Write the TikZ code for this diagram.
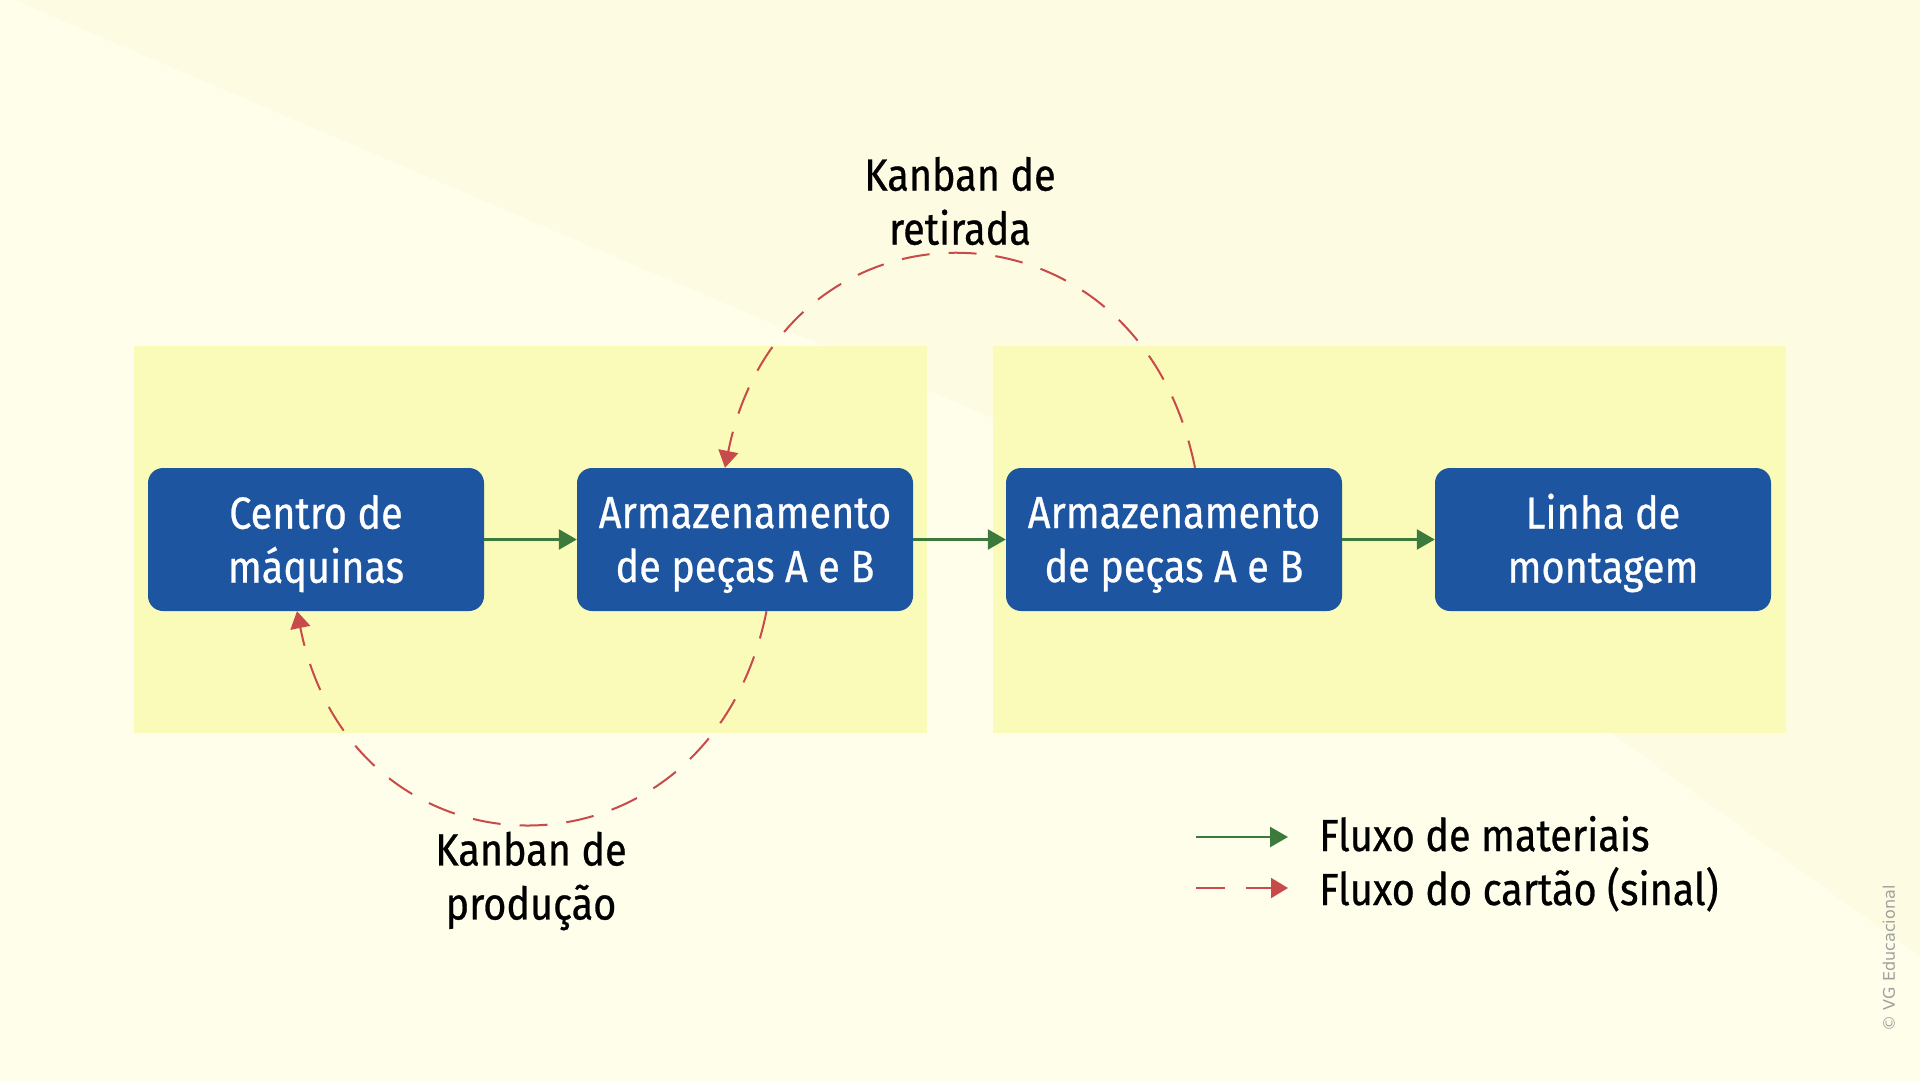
\documentclass[tikz,border=0pt]{standalone}
\usepackage{fontspec}
\setmainfont{Fira Sans}[FakeStretch=0.88,FakeBold=0.6]
\newfontfamily\copyfont{DejaVu Sans}
\usetikzlibrary{arrows.meta,calc}
\definecolor{bgw}{HTML}{FEFEEA}
\definecolor{bgy}{HTML}{FDFCE2}
\definecolor{panelc}{HTML}{FAFBB9}
\definecolor{boxblue}{HTML}{1E55A1}
\definecolor{flowgreen}{HTML}{3B7A3B}
\definecolor{cardred}{HTML}{C84A4A}
\definecolor{copygray}{HTML}{A0A0A0}
\newcommand{\topstrut}{\rule{0pt}{42pt}}
\tikzset{
  boxnode/.style={fill=boxblue, rounded corners=15pt, minimum width=336pt,
    minimum height=143pt, inner sep=0pt, text=white, align=center,
    font=\fontsize{45}{54}\selectfont},
  lbl/.style={align=center, text=black, font=\fontsize{45}{54}\selectfont, inner sep=0pt},
  legtext/.style={anchor=base west, text=black, font=\fontsize{45}{54}\selectfont, inner sep=0pt},
  matflow/.style={draw=flowgreen, line width=2.5pt, -{Triangle[length=18pt,width=20pt]}},
  cardflow/.style={draw=cardred, line width=2pt, dash pattern=on 28pt off 19pt,
    -{Triangle[length=17pt,width=20pt]}},
  legcard/.style={draw=cardred, line width=2pt, dash pattern=on 29pt off 21pt,
    -{Triangle[length=17pt,width=20pt]}},
  panel/.style={fill=panelc}
}
\begin{document}
\begin{tikzpicture}[x=1pt,y=-1pt]
\useasboundingbox (0,0) rectangle (1920,1081);
% background
\fill[bgw] (0,0) rectangle (1920,1081);
\fill[bgy] (14,0) -- (1920,0) -- (1920,957) -- (1443,610) -- cycle;
% panels
\fill[panel] (134,346) rectangle (927,733);
\fill[panel] (993,346) rectangle (1786,733);
% boxes
\node[boxnode] (b1) at (316,539.5) {\topstrut Centro de\\máquinas};
\node[boxnode] (b2) at (745,539.5) {\topstrut Armazenamento\\de peças A e B};
\node[boxnode] (b3) at (1174,539.5) {\topstrut Armazenamento\\de peças A e B};
\node[boxnode] (b4) at (1603,539.5) {\topstrut Linha de\\montagem};
% material flow
\draw[matflow] (b1.east) -- (b2.west);
\draw[matflow] (b2.east) -- (b3.west);
\draw[matflow] (b3.east) -- (b4.west);
% card flows
\draw[cardflow] ($(b3.north)+(21,0)$) .. controls +(-57,-284) and +(57,-284) .. ($(b2.north)+(-20,0)$);
\draw[cardflow] ($(b2.south)+(21.5,0)$) .. controls +(-57,283) and +(57,283) .. ($(b1.south)+(-19,0)$);
% labels
\node[lbl] (lret) at (960,201) {Kanban de\\retirada};
\node[lbl] (lprod) at (531,881) {Kanban de\\produção};
% legend
\coordinate (g1) at (1196,837);
\coordinate (g2) at (1288,837);
\coordinate (r1) at (1196,888);
\coordinate (r2) at (1288,888);
\draw[matflow] (g1) -- (g2);
\draw[legcard] (r1) -- (r2);
\node[legtext] (t1) at (1319,851) {Fluxo de materiais};
\node[legtext] (t2) at (1319,905) {Fluxo do cartão (sinal)};
% copyright
\node[rotate=90, text=copygray, font=\copyfont\fontsize{16}{19}\selectfont, inner sep=0pt] (copy) at (1889,958.5) {© VG Educacional};
\end{tikzpicture}
\end{document}
